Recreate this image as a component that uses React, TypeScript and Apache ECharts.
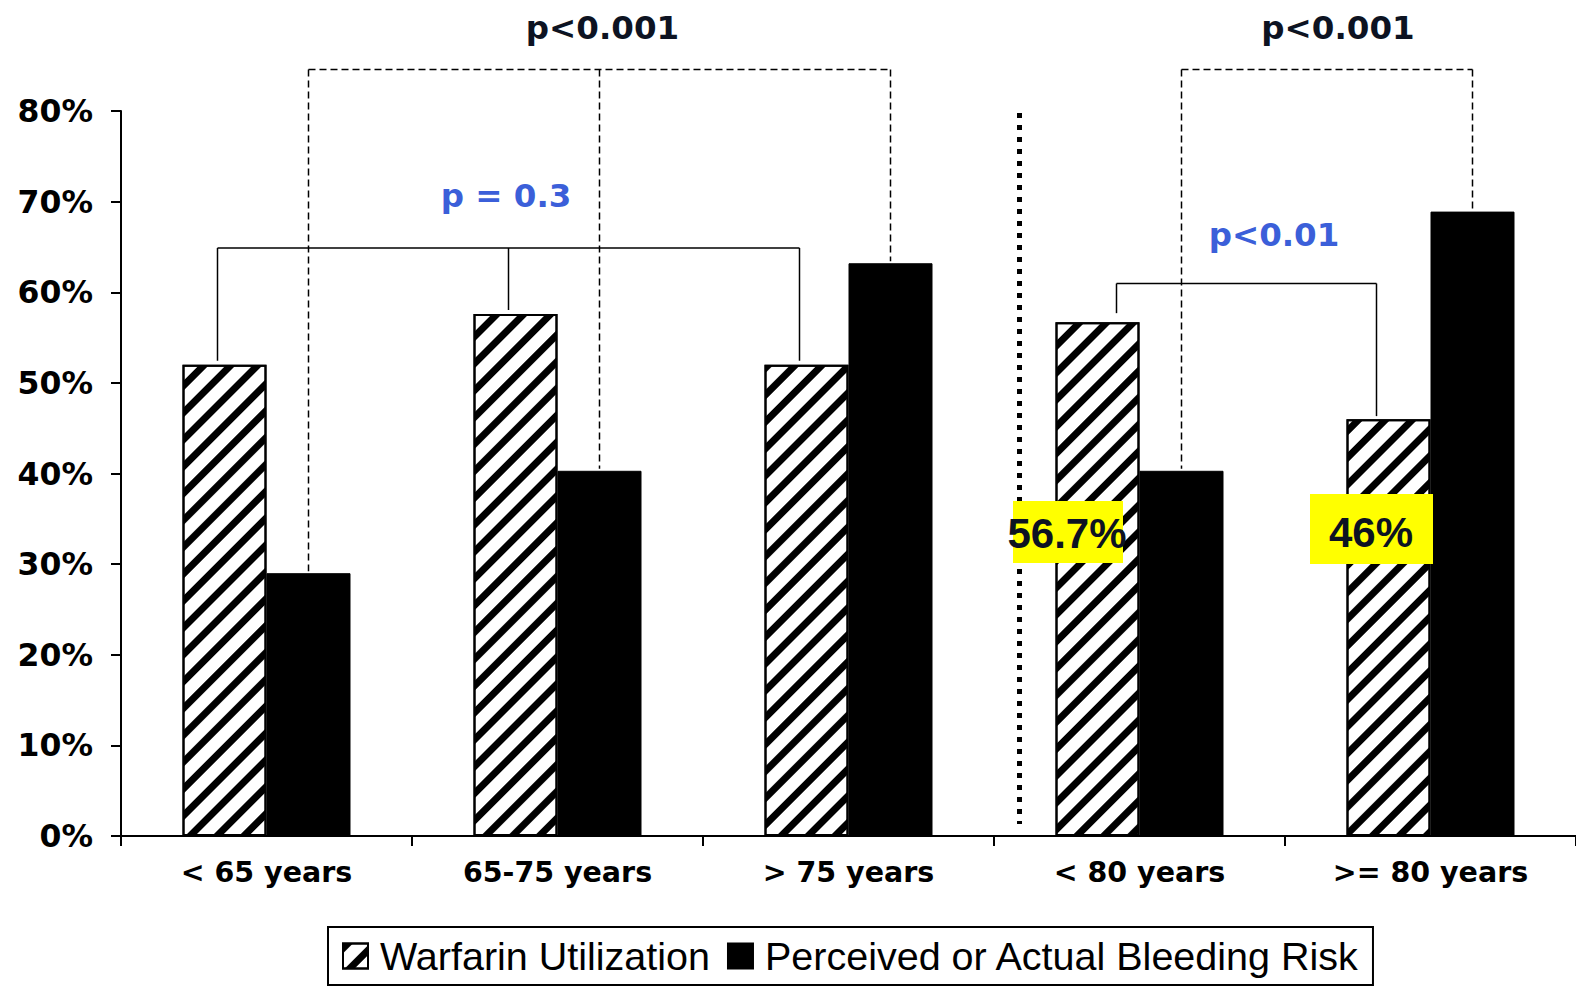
import React, { useEffect, useRef } from "react";
import * as echarts from "echarts";

// Age groups (two separate splits divided by the dotted line)
const categories = ["< 65 years", "65-75 years", "> 75 years", "< 80 years", ">= 80 years"];
const seriesNames = ["Warfarin Utilization", "Perceived or Actual Bleeding Risk"];
const warfarinUtilization = [52, 57.6, 52, 56.7, 46];
const bleedingRisk = [29, 40.3, 63.2, 40.3, 68.9];
const yMax = 80;
const yStep = 10;

// Significance annotations
const pBleedingLeft = "p<0.001";
const pBleedingRight = "p<0.001";
const pWarfarinLeft = "p = 0.3";
const pWarfarinRight = "p<0.01";
// Categories whose warfarin value is called out with a yellow label
const calloutIndexes = [3, 4];

const BOLD = '"DejaVu Sans", sans-serif';
const NAVY = "#0d1322";
const BLUE = "#3b5fd9";

export default function App() {
  const ref = useRef<HTMLDivElement>(null);

  useEffect(() => {
    if (!ref.current) return;
    const chart = echarts.init(ref.current, null, { renderer: "svg" });

    const barWidth = 84;
    chart.setOption({
      animation: false,
      backgroundColor: "#fff",
      grid: { left: 121, right: 0, top: 111, bottom: 151, containLabel: false },
      legend: {
        left: 328,
        top: 927,
        icon: "rect",
        itemWidth: 25,
        itemHeight: 25,
        itemGap: 17,
        padding: [7, 13, 7, 14],
        borderColor: "#000",
        borderWidth: 2,
        textStyle: {
          fontFamily: '"Liberation Sans", Arial, sans-serif',
          fontSize: 39.5,
          color: "#000",
          lineHeight: 44,
          padding: [0, 0, 0, 7],
        },
        data: seriesNames,
      },
      xAxis: {
        type: "category",
        data: categories,
        axisLine: { show: true, lineStyle: { color: "#000", width: 2 } },
        axisTick: { show: true, length: 10, interval: 0, lineStyle: { color: "#000", width: 2 } },
        axisLabel: {
          interval: 0,
          margin: 22,
          fontFamily: BOLD,
          fontWeight: "bold",
          fontSize: 28.5,
          color: "#000",
        },
        splitLine: { show: false },
      },
      yAxis: {
        type: "value",
        min: 0,
        max: yMax,
        interval: yStep,
        axisLine: { show: true, lineStyle: { color: "#000", width: 2 } },
        axisTick: { show: true, length: 10, lineStyle: { color: "#000", width: 2 } },
        axisLabel: {
          formatter: "{value}%",
          margin: 28,
          fontFamily: BOLD,
          fontWeight: "bold",
          fontSize: 31.5,
          color: "#000",
        },
        splitLine: { show: false },
      },
      series: [
        {
          name: seriesNames[0],
          type: "bar",
          data: warfarinUtilization,
          barWidth,
          barGap: "0%",
          itemStyle: {
            color: "#fff",
            borderColor: "#000",
            borderWidth: 2,
            decal: {
              symbol: "rect",
              symbolSize: 1,
              color: "#000",
              dashArrayX: [1, 0],
              dashArrayY: [7, 11.5],
              rotation: -Math.PI / 4,
            },
          },
        },
        {
          name: seriesNames[1],
          type: "bar",
          data: bleedingRisk,
          barWidth,
          barGap: "0%",
          itemStyle: { color: "#000", borderColor: "#000", borderWidth: 1 },
        },
      ],
    });

    const pt = (i: number, v: number) =>
      chart.convertToPixel({ xAxisIndex: 0, yAxisIndex: 0 }, [i, v]) as number[];
    const cx = (i: number) => pt(i, 0)[0];
    const cy = (v: number) => pt(0, v)[1];
    const half = barWidth / 2;

    const solid = { stroke: "#000", lineWidth: 1.5 };
    const dashed = { stroke: "#000", lineWidth: 1.5, lineDash: [7, 4] };
    const seg = (x1: number, y1: number, x2: number, y2: number, style: object) => ({
      type: "line",
      z: 50,
      shape: { x1, y1, x2, y2 },
      style,
    });

    const elements: any[] = [];

    // Bracket over the bleeding-risk bars, first split
    const dashTop = 69.5;
    const leftDrops = [0, 1, 2].map((i) => cx(i) + half);
    elements.push(seg(leftDrops[0], dashTop, leftDrops[2], dashTop, dashed));
    [0, 1, 2].forEach((i) => {
      elements.push(seg(leftDrops[i], dashTop, leftDrops[i], cy(bleedingRisk[i]) - 2, dashed));
    });
    // Bracket over the bleeding-risk bars, second split
    const rightDrops = [3, 4].map((i) => cx(i) + half);
    elements.push(seg(rightDrops[0], dashTop, rightDrops[1], dashTop, dashed));
    [3, 4].forEach((i, k) => {
      elements.push(seg(rightDrops[k], dashTop, rightDrops[k], cy(bleedingRisk[i]) - 2, dashed));
    });

    // Bracket over the warfarin bars, first split
    const solidTopLeft = 248;
    const wDrops = [0, 1, 2].map((i) => cx(i) - 49);
    elements.push(seg(wDrops[0], solidTopLeft, wDrops[2], solidTopLeft, solid));
    [0, 1, 2].forEach((i) => {
      elements.push(seg(wDrops[i], solidTopLeft, wDrops[i], cy(warfarinUtilization[i]) - 4, solid));
    });
    // Bracket over the warfarin bars, second split
    const solidTopRight = 283.5;
    const w3 = cx(3) - 23;
    const w4 = cx(4) - 54;
    elements.push(seg(w3, solidTopRight, w4, solidTopRight, solid));
    elements.push(seg(w3, solidTopRight, w3, cy(warfarinUtilization[3]) - 9, solid));
    elements.push(seg(w4, solidTopRight, w4, cy(warfarinUtilization[4]) - 3, solid));

    // Dotted separator between the two age splits
    const sepX = cx(3) - 120;
    elements.push({
      type: "line",
      z: 50,
      shape: { x1: sepX, y1: 113, x2: sepX, y2: 824 },
      style: { stroke: "#000", lineWidth: 5, lineDash: [5, 7] },
    });

    const label = (text: string, x: number, y: number, color: string) => ({
      type: "text",
      z: 60,
      style: {
        text,
        x,
        y,
        align: "center",
        verticalAlign: "middle",
        fill: color,
        font: `bold 32.5px ${BOLD}`,
      },
    });
    elements.push(label(pBleedingLeft, (leftDrops[0] + leftDrops[2]) / 2 + 3, 28, NAVY));
    elements.push(label(pBleedingRight, (rightDrops[0] + rightDrops[1]) / 2 + 11, 28, NAVY));
    elements.push(label(pWarfarinLeft, 506, 196, BLUE));
    elements.push(label(pWarfarinRight, 1274, 235, BLUE));

    // Yellow value call-outs on the warfarin bars of the second split
    const callouts = [
      { box: [1013, 501, 110, 62], tx: 1067, ty: 533 },
      { box: [1310, 494, 123, 70], tx: 1371, ty: 532 },
    ];
    calloutIndexes.forEach((idx, k) => {
      const c = callouts[k];
      elements.push({
        type: "rect",
        z: 55,
        shape: { x: c.box[0], y: c.box[1], width: c.box[2], height: c.box[3] },
        style: { fill: "#ffff00" },
      });
      elements.push({
        type: "text",
        z: 60,
        style: {
          text: `${warfarinUtilization[idx]}%`,
          x: c.tx,
          y: c.ty,
          align: "center",
          verticalAlign: "middle",
          fill: NAVY,
          font: 'bold 42px "Liberation Sans", Arial, sans-serif',
        },
      });
    });

    chart.setOption({ graphic: elements });

    return () => chart.dispose();
  }, []);

  return (
    <div
      ref={ref}
      style={{ position: "fixed", left: 0, top: 0, width: 1576, height: 987, background: "#fff" }}
    />
  );
}
